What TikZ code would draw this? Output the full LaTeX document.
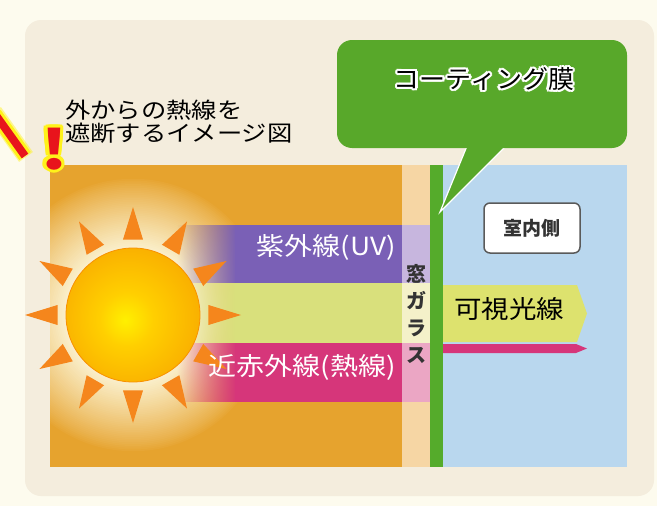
\documentclass[tikz,border=0pt]{standalone}
\usepackage{fontspec}
\setmainfont{Noto Sans CJK JP}
\usetikzlibrary{fadings,calc}

\definecolor{pagebg}{HTML}{FDFBEE}
\definecolor{panel}{HTML}{F4EDDD}
\definecolor{orangebg}{HTML}{E6A32E}
\definecolor{glasspeach}{HTML}{F6D6A4}
\definecolor{filmgreen}{HTML}{55AB2B}
\definecolor{roomblue}{HTML}{B9D7EE}
\definecolor{uvpurple}{HTML}{7A60B6}
\definecolor{visyg}{HTML}{D9E07C}
\definecolor{visarrow}{HTML}{DDE26E}
\definecolor{nirmag}{HTML}{D6367A}
\definecolor{uvlight}{HTML}{C7B6DE}
\definecolor{vislight}{HTML}{F4F1C9}
\definecolor{nirlight}{HTML}{EBA6C4}
\definecolor{callgreen}{HTML}{58A82A}
\definecolor{boxgray}{HTML}{5A5A5A}
\definecolor{raycol}{HTML}{F5861C}
\definecolor{sunA}{HTML}{FFF000}
\definecolor{sunB}{HTML}{FFCF00}
\definecolor{sunC}{HTML}{F7A000}
\definecolor{glowA}{HTML}{FAEFCB}
\definecolor{alertred}{HTML}{E8141C}
\definecolor{alertyellow}{HTML}{FFF21A}

% bands fade in from the sun side
\tikzfading[name=fadein, left color=transparent!100, right color=transparent!0]

% the sun disk itself (rim at 35.4bp)
\pgfdeclareradialshading{sundisk}{\pgfpoint{-3bp}{-2bp}}{%
  color(0bp)=(sunA); color(10bp)=(sunB); color(35.4bp)=(sunC); color(50bp)=(sunC)}

\tikzset{
  jp/.style={font=\fontsize{25}{29}\selectfont, inner sep=0pt},
  titletext/.style={font=\fontsize{22}{24}\selectfont, inner sep=0pt, xscale=1.15, anchor=base west},
  bandtext/.style={jp, text=white, xscale=1.12, anchor=east},
  ray/.style={fill=raycol},
  alertmark/.style={inner sep=0pt, font=\fontsize{54}{54}\selectfont\bfseries, xscale=1.3, anchor=base},
}

\begin{document}
\begin{tikzpicture}[x=1pt, y=-1pt]
\useasboundingbox (0,0) rectangle (657,506);
\fill[pagebg] (0,0) rectangle (657,506);
\fill[panel, rounded corners=16pt] (25,20) rectangle (654,496);

% outdoor side, with a soft light around the sun
\fill[orangebg] (50,165) rectangle (402,467);
\begin{scope}
  \clip (50,165) rectangle (402,467);
  \foreach \i in {0,...,40} {
    \pgfmathsetmacro\rr{138-\i*1.75}
    \pgfmathsetmacro\pp{100*(\i/40)^0.85}
    \fill[glowA!\pp!orangebg] (133,315) circle (\rr);
  }
\end{scope}

% rays of light
\fill[uvpurple, path fading=fadein] (177,225) rectangle (236,283.5);
\fill[uvpurple] (235,225) rectangle (402,283.5);
\fill[visyg, path fading=fadein] (177,283) rectangle (236,343.5);
\fill[visyg] (235,283) rectangle (402,343.5);
\fill[nirmag, path fading=fadein] (177,343) rectangle (236,402);
\fill[nirmag] (235,343) rectangle (402,402);

% sun
\begin{scope}[shift={(133,315)}]
  \foreach \a in {0,30,...,330}
    \fill[ray] (\a:108) -- (\a-7.6:76) -- (\a+7.6:76) -- cycle;
  \shade[shading=sundisk, draw=sunC!90!red, line width=0.8pt] (0,0) circle (67);
\end{scope}

% window glass
\fill[glasspeach] (402,165) rectangle (430,467);
\fill[uvlight] (402,225) rectangle (430,283.5);
\fill[vislight] (402,283) rectangle (430,343.5);
\fill[nirlight] (402,343) rectangle (430,402);

% coating film and room side
\fill[roomblue] (443,165) rectangle (627,467);
\fill[filmgreen] (430,165) rectangle (443,467);
\fill[visarrow] (443,285) -- (577,285) -- (587,313.5) -- (577,342) -- (443,342) -- cycle;
\fill[nirmag] (443,344) -- (576,344) -- (587,348.5) -- (576,353) -- (443,353) -- cycle;

% callout
\path[fill=callgreen, draw=white, line width=1.2pt] (467,146) -- (440,212) -- (506,146);
\fill[callgreen, rounded corners=15pt] (337,40) rectangle (627,148);
\foreach \a in {0,30,...,330}
  \node[jp, text=white, xscale=1.04, shift={(\a:2.4pt)}] at (484,79) {コーティング膜};
\node[jp, xscale=1.04] (coat) at (484,79) {コーティング膜};

% labels
\node[titletext] (title1) at (65,118) {外からの熱線を};
\node[titletext] (title2) at (65,141) {遮断するイメージ図};
\node[bandtext] (uv) at (396,247) {紫外線(UV)};
\node[bandtext] (nir) at (396,367) {近赤外線(熱線)};
\node[jp, anchor=west, xscale=1.1] (vis) at (454,309) {可視光線};
\node[inner sep=0pt, align=center, text=black!80, font=\fontsize{20}{27}\selectfont\bfseries] (glass) at (416,314) {窓\\ガ\\ラ\\ス};
\node[draw=boxgray, fill=white, rounded corners=6pt, line width=1.5pt,
      minimum width=96pt, minimum height=50pt, text=black!80,
      font=\fontsize{19}{19}\selectfont\bfseries] (room) at (532,228) {室内側};

% alert marks at the left edge
\draw[alertyellow, line width=17pt, opacity=0.45] (-6,112) -- (26,157);
\draw[alertyellow, line width=14pt] (-5,114) -- (25,156);
\draw[alertred, line width=8pt] (-5,114) -- (25,156);
\foreach \a in {0,30,...,330}
  \node[alertmark, text=alertyellow, shift={(\a:3pt)}] at (54,169) {!};
\node[alertmark, text=alertred] (alert) at (54,169) {!};
\end{tikzpicture}
\end{document}
